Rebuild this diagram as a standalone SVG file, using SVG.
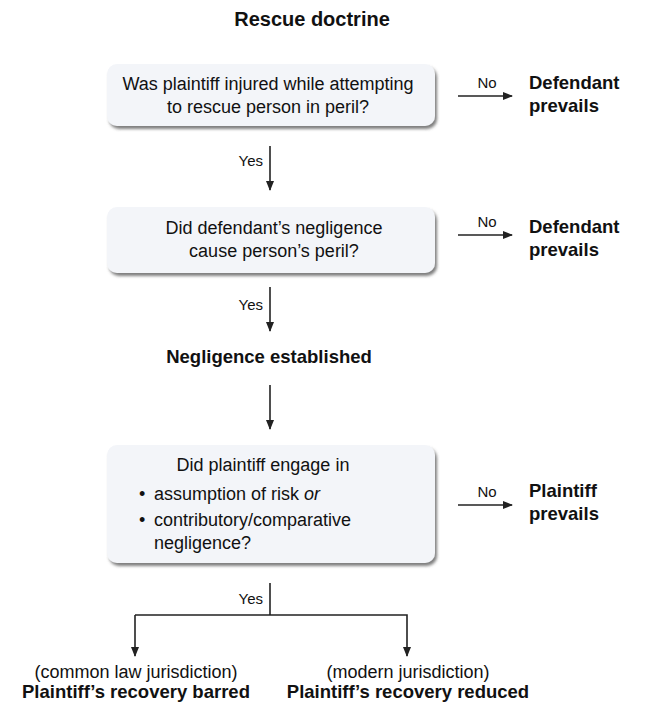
<svg xmlns="http://www.w3.org/2000/svg" width="646" height="713" viewBox="0 0 646 713">
<defs>
<style>
text{font-family:"Liberation Sans",Arial,Helvetica,sans-serif;fill:#111}
.t{font-size:18px}
.b{font-size:18.5px;font-weight:bold}
.title{font-size:20px;font-weight:bold}
.lab{font-size:15px}
.box{fill:#f3f5f9;filter:url(#sh)}
.ln{stroke:#222;stroke-width:1.6;fill:none}
.arr{marker-end:url(#ah)}
</style>
<filter id="sh" x="-5%" y="-10%" width="115%" height="130%">
<feDropShadow dx="2" dy="3" stdDeviation="1.6" flood-color="#555" flood-opacity="0.75"/>
</filter>
<marker id="ah" markerWidth="10" markerHeight="8" refX="9" refY="4" orient="auto" markerUnits="userSpaceOnUse">
<path d="M0,0 L10,4 L0,8 Z" fill="#222"/>
</marker>
</defs>
<rect width="646" height="713" fill="#fff"/>
<g id="title"><text class="title" x="312" y="26" text-anchor="middle">Rescue doctrine</text></g>

<g id="q1">
<rect class="box" x="107" y="64" width="328" height="62" rx="10"/>
<text class="t" x="268" y="90" text-anchor="middle">Was plaintiff injured while attempting</text>
<text class="t" x="268" y="113" text-anchor="middle">to rescue person in peril?</text>
</g>
<g id="r1"><text class="b" x="529" y="89">Defendant</text><text class="b" x="529" y="112">prevails</text></g>

<g id="q2">
<rect class="box" x="107" y="207" width="328" height="66" rx="10"/>
<text class="t" x="274" y="234" text-anchor="middle">Did defendant’s negligence</text>
<text class="t" x="274" y="257" text-anchor="middle">cause person’s peril?</text>
</g>
<g id="r2"><text class="b" x="529" y="233">Defendant</text><text class="b" x="529" y="256">prevails</text></g>

<g id="neg"><text class="b" x="269" y="363" text-anchor="middle">Negligence established</text></g>

<g id="q3">
<rect class="box" x="107" y="445" width="328" height="118" rx="10"/>
<text class="t" x="263" y="471" text-anchor="middle">Did plaintiff engage in</text>
<text class="t" x="139" y="500">•</text>
<text class="t" x="154" y="500">assumption of risk <tspan font-style="italic">or</tspan></text>
<text class="t" x="139" y="526">•</text>
<text class="t" x="154" y="526">contributory/comparative</text>
<text class="t" x="154" y="549">negligence?</text>
</g>
<g id="r3"><text class="b" x="529" y="497">Plaintiff</text><text class="b" x="529" y="520">prevails</text></g>

<g id="o1">
<text class="t" x="136" y="678" text-anchor="middle">(common law jurisdiction)</text>
<text class="b" x="136" y="698" text-anchor="middle">Plaintiff’s recovery barred</text>
</g>
<g id="o2">
<text class="t" x="408" y="678" text-anchor="middle">(modern jurisdiction)</text>
<text class="b" x="408" y="698" text-anchor="middle">Plaintiff’s recovery reduced</text>
</g>

<g id="connectors">
<line class="ln arr" x1="458" y1="96" x2="512" y2="96"/>
<text class="lab" x="487" y="88" text-anchor="middle">No</text>
<line class="ln arr" x1="458" y1="235" x2="512" y2="235"/>
<text class="lab" x="487" y="227" text-anchor="middle">No</text>
<line class="ln arr" x1="458" y1="505" x2="512" y2="505"/>
<text class="lab" x="487" y="497" text-anchor="middle">No</text>
<line class="ln arr" x1="270" y1="146" x2="270" y2="190"/>
<text class="lab" x="263" y="166" text-anchor="end">Yes</text>
<line class="ln arr" x1="270" y1="287" x2="270" y2="331"/>
<text class="lab" x="263" y="310" text-anchor="end">Yes</text>
<line class="ln arr" x1="270" y1="385" x2="270" y2="429"/>
<line class="ln" x1="270" y1="583" x2="270" y2="615"/>
<text class="lab" x="263" y="604" text-anchor="end">Yes</text>
<path class="ln arr" d="M135,615 H407 V656"/>
<line class="ln arr" x1="135" y1="615" x2="135" y2="656"/>
</g>
</svg>
